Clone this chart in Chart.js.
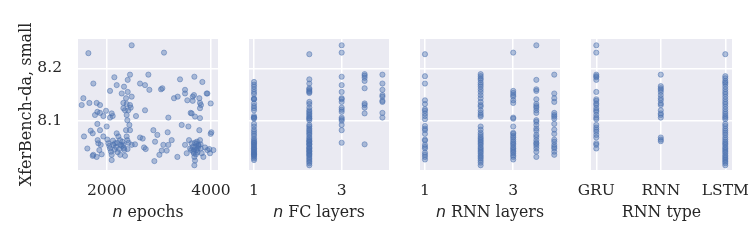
<!DOCTYPE html>
<html>
<head>
<meta charset="utf-8">
<script src="https://cdn.jsdelivr.net/npm/chart.js@4/dist/chart.umd.min.js"></script>
<style>
  body { margin: 0; background: #fff; width: 749px; height: 240px; position: relative; overflow: hidden; }
  canvas { position: absolute; top: 0; }
</style>
</head>
<body>
<canvas id="p1" width="250" height="240" style="left:0px"></canvas>
<canvas id="p2" width="200" height="240" style="left:230px"></canvas>
<canvas id="p3" width="200" height="240" style="left:400px"></canvas>
<canvas id="p4" width="210" height="240" style="left:560px"></canvas>
<script>
// y axis (shared)
const yLabel = 'XferBench-da, small'
const yTicks = [8.1, 8.2]

// panel 1: n epochs vs score
const epochTicks = [2000, 4000]
const epochs = [1649, 2479, 3099,
  1744, 2147, 2192, 2447, 2403, 2799, 2639, 2735, 2818, 3042, 3067, 3406, 3502, 3681, 3834, 3917, 2064, 2332, 2288, 2403,
  2371, 2479, 2320, 2383, 2447, 2415, 2351, 2320, 2460, 1553, 1521, 1668, 1808, 1872, 1821, 1872, 1776, 1936, 1987, 2096,
  2115, 2064, 2383, 2396, 2562, 2735, 3182, 3291, 3361, 3502, 3546, 3649, 3649, 3674, 3776, 3789, 3808, 3789, 3930, 3994,
  3610, 3629, 3693, 3789,
  1565, 1629, 1693, 1732, 1821, 1872, 1827, 1840, 1744, 1732, 1808, 1859, 1885, 1904, 1936, 2000, 2013, 2032, 2064, 2083,
  2096, 2096, 2128, 2160, 2192, 2224, 2256, 2268, 2320, 2339, 2351, 2371, 2383, 2396, 2435, 2447, 2479, 2543, 2639, 2690,
  2716, 2748, 2895, 2914, 2927, 2971, 3010, 3054, 3086, 3150, 3169, 3182, 3246, 3355, 3438, 3566, 3502, 3534, 3578, 3598,
  3629, 3661, 3681, 3693, 3681, 3725, 3744, 3757, 3776, 3789, 3802, 3821, 3853, 3885, 3930, 3968, 3981, 3994, 4006, 4045,
  2180, 2200, 2240, 2290, 2300, 2150, 2210, 2330, 2260, 2120, 2050, 2400, 2420,
  3700, 3720, 3680, 3740, 3760, 3650, 3710, 3730, 3690, 3620, 3800, 3670]
const epochScores = [8.229, 8.244, 8.230,
  8.171, 8.183, 8.168, 8.188, 8.178, 8.188, 8.171, 8.168, 8.159, 8.160, 8.162, 8.179, 8.159, 8.184, 8.174, 8.152, 8.157, 8.165, 8.152, 8.155,
  8.143, 8.146, 8.134, 8.132, 8.130, 8.120, 8.120, 8.124, 8.125, 8.143, 8.130, 8.134, 8.134, 8.130, 8.117, 8.115, 8.111, 8.109, 8.119, 8.114,
  8.109, 8.106, 8.111, 8.101, 8.109, 8.120, 8.106, 8.143, 8.146, 8.152, 8.139, 8.138, 8.146, 8.149, 8.143, 8.134, 8.130, 8.124, 8.152, 8.133,
  8.115, 8.114, 8.108, 8.105,
  8.070, 8.047, 8.081, 8.076, 8.094, 8.082, 8.063, 8.057, 8.035, 8.033, 8.031, 8.044, 8.054, 8.036, 8.070, 8.089, 8.064, 8.057, 8.047, 8.041,
  8.035, 8.025, 8.054, 8.057, 8.076, 8.070, 8.063, 8.054, 8.054, 8.044, 8.033, 8.082, 8.070, 8.063, 8.092, 8.082, 8.054, 8.055, 8.068, 8.066,
  8.049, 8.046, 8.082, 8.023, 8.060, 8.073, 8.035, 8.043, 8.054, 8.043, 8.078, 8.054, 8.063, 8.031, 8.092, 8.089, 8.054, 8.038, 8.063, 8.047,
  8.057, 8.041, 8.031, 8.024, 8.015, 8.044, 8.047, 8.054, 8.082, 8.063, 8.047, 8.038, 8.031, 8.049, 8.044, 8.046, 8.038, 8.075, 8.078, 8.044,
  8.050, 8.058, 8.046, 8.052, 8.060, 8.045, 8.040, 8.048, 8.035, 8.062, 8.052, 8.046, 8.058,
  8.050, 8.056, 8.045, 8.040, 8.052, 8.050, 8.036, 8.060, 8.058, 8.044, 8.055, 8.038]

// panel 2: n FC layers (log x)
const layerTicks = [1, 3]
const fcLayers = [1, 2, 3, 4, 5]
const fcScores = [
  [8.174, 8.169, 8.165, 8.160, 8.155, 8.151, 8.143, 8.141, 8.141, 8.133, 8.128, 8.124, 8.120, 8.109, 8.106, 8.106, 8.104,
   8.094, 8.089, 8.083, 8.079, 8.075, 8.071, 8.066, 8.063, 8.060, 8.058, 8.057, 8.054, 8.052, 8.050, 8.047, 8.046, 8.044,
   8.041, 8.040, 8.038, 8.036, 8.035, 8.033, 8.031, 8.028, 8.025],
  [8.227, 8.179, 8.171, 8.162, 8.160, 8.157, 8.155, 8.153, 8.136, 8.132, 8.125, 8.120, 8.117, 8.114, 8.111, 8.108, 8.105,
   8.104, 8.101, 8.092, 8.089, 8.085, 8.082, 8.079, 8.076, 8.073, 8.069, 8.066, 8.063, 8.061, 8.060, 8.057, 8.055, 8.054,
   8.050, 8.048, 8.047, 8.044, 8.042, 8.041, 8.038, 8.036, 8.034, 8.031, 8.028, 8.025, 8.022, 8.019, 8.015],
  [8.244, 8.230, 8.184, 8.168, 8.155, 8.143, 8.141, 8.136, 8.125, 8.121, 8.117, 8.106, 8.103, 8.100, 8.092, 8.082, 8.058],
  [8.189, 8.186, 8.182, 8.176, 8.162, 8.133, 8.130, 8.125, 8.114, 8.055],
  [8.188, 8.171, 8.159, 8.149, 8.146, 8.138, 8.136, 8.115, 8.106]
]

// panel 3: n RNN layers (log x)
const rnnLayers = [1, 2, 3, 4, 5]
const rnnLayerScores = [
  [8.227, 8.185, 8.171, 8.139, 8.132, 8.122, 8.119, 8.114, 8.109, 8.103, 8.090, 8.085, 8.082, 8.075, 8.064, 8.062, 8.054,
   8.050, 8.047, 8.039, 8.035, 8.031, 8.026],
  [8.189, 8.185, 8.181, 8.178, 8.173, 8.169, 8.165, 8.160, 8.155, 8.149, 8.143, 8.136, 8.130, 8.127, 8.120, 8.115, 8.111,
   8.108, 8.089, 8.083, 8.077, 8.073, 8.069, 8.066, 8.063, 8.060, 8.057, 8.054, 8.050, 8.047, 8.044, 8.041, 8.038, 8.034,
   8.031, 8.028, 8.024, 8.020, 8.015],
  [8.230, 8.157, 8.153, 8.149, 8.146, 8.139, 8.134, 8.106, 8.104, 8.089, 8.077, 8.075, 8.071, 8.068, 8.064, 8.060, 8.057,
   8.054, 8.050, 8.047, 8.044, 8.041, 8.038, 8.034, 8.031, 8.026],
  [8.244, 8.178, 8.160, 8.157, 8.141, 8.132, 8.128, 8.125, 8.120, 8.115, 8.101, 8.098, 8.092, 8.085, 8.081, 8.073, 8.069,
   8.063, 8.058, 8.056, 8.052, 8.047, 8.041, 8.031],
  [8.188, 8.152, 8.143, 8.136, 8.115, 8.111, 8.108, 8.104, 8.094, 8.083, 8.075, 8.064, 8.060, 8.054, 8.050, 8.047, 8.041, 8.035]
]

// panel 4: RNN type (categorical)
const rnnTypes = ['GRU', 'RNN', 'LSTM']
const rnnTypeScores = [
  [8.244, 8.230, 8.188, 8.185, 8.183, 8.178, 8.155, 8.141, 8.138, 8.133, 8.130, 8.124, 8.120, 8.117, 8.111, 8.106, 8.103,
   8.092, 8.087, 8.083, 8.079, 8.073, 8.068, 8.057, 8.054, 8.047],
  [8.188, 8.166, 8.162, 8.159, 8.155, 8.149, 8.143, 8.139, 8.133, 8.130, 8.120, 8.114, 8.111, 8.106, 8.068, 8.064, 8.061],
  [8.227, 8.185, 8.181, 8.176, 8.173, 8.170, 8.165, 8.160, 8.155, 8.151, 8.146, 8.141, 8.136, 8.132, 8.127, 8.122, 8.117,
   8.113, 8.109, 8.106, 8.103, 8.094, 8.090, 8.085, 8.081, 8.077, 8.073, 8.068, 8.064, 8.060, 8.057, 8.054, 8.050, 8.047,
   8.044, 8.041, 8.038, 8.034, 8.031, 8.028, 8.025, 8.022, 8.019, 8.015]
]

const xTitles = ['n epochs', 'n FC layers', 'n RNN layers', 'RNN type']

const textColor = '#262626'
const tickFont = { family: 'DejaVu Serif', size: 15.5 }

// grey panel background behind grid
const panelBg = {
  id: 'panelBg',
  beforeDraw(chart) {
    const { ctx, chartArea: a } = chart
    ctx.save()
    ctx.fillStyle = '#EAEAF2'
    ctx.fillRect(a.left, a.top, a.right - a.left, a.bottom - a.top)
    ctx.restore()
  }
}

// x title with italic math "n"
const xTitle = {
  id: 'xTitle',
  afterDraw(chart, args, opts) {
    const { ctx, chartArea: a } = chart
    const t = opts.text
    const serif = '15.8px "DejaVu Serif"'
    const parts = t.startsWith('n ')
      ? [['n', 'italic 15.8px "DejaVu Sans"'], [t.slice(1), serif]]
      : [[t, serif]]
    ctx.save()
    let total = 0
    for (let p of parts) { ctx.font = p[1]; total += ctx.measureText(p[0]).width }
    let x = (a.left + a.right) / 2 - total / 2
    ctx.fillStyle = textColor
    ctx.textBaseline = 'alphabetic'
    ctx.textAlign = 'left'
    for (let p of parts) {
      ctx.font = p[1]
      ctx.fillText(p[0], x, 216.5)
      x += ctx.measureText(p[0]).width
    }
    ctx.restore()
  }
}

function pts(xs, ys) {
  return xs.map((x, i) => ({ x: x, y: ys[i] }))
}
function cols(xs, groups) {
  let out = []
  groups.forEach((g, i) => g.forEach(y => out.push({ x: xs[i], y: y })))
  return out
}

function drawPanel(p) {
  const grid = { color: '#ffffff', lineWidth: 1.5, drawTicks: false }
  new Chart(document.getElementById(p.id), {
    type: 'scatter',
    data: {
      datasets: [{
        data: p.data,
        backgroundColor: 'rgba(76,114,176,0.42)',
        borderColor: 'rgba(76,114,176,0.5)',
        borderWidth: 1,
        pointRadius: 2.6
      }]
    },
    options: {
      responsive: false,
      animation: false,
      layout: { padding: { top: 39, bottom: 0, left: p.padL, right: p.padR } },
      plugins: {
        legend: { display: false },
        tooltip: { enabled: false },
        xTitle: { text: p.title }
      },
      scales: {
        x: {
          type: p.xType,
          min: p.xMin,
          max: p.xMax,
          bounds: 'data',
          afterBuildTicks: s => { s.ticks = p.xTicks.map(v => ({ value: v })) },
          afterFit: s => { s.height = 70 },
          grid: grid,
          border: { display: false },
          ticks: { font: tickFont, color: textColor, padding: 12, maxRotation: 0, autoSkip: false, callback: p.xLabel }
        },
        y: {
          min: 8.006,
          max: 8.256,
          bounds: 'data',
          afterBuildTicks: s => { s.ticks = yTicks.map(v => ({ value: v })) },
          afterFit: s => { s.width = p.yWidth },
          grid: grid,
          border: { display: false },
          ticks: { display: p.yWidth > 0, font: tickFont, color: textColor, padding: 16, callback: v => v.toFixed(1) },
          title: {
            display: p.yWidth > 0,
            text: yLabel,
            color: textColor,
            font: { family: 'DejaVu Serif', size: 16 },
            padding: { top: 17.5, bottom: 0 }
          }
        }
      }
    },
    plugins: [panelBg, xTitle]
  })
}

drawPanel({ id: 'p1', data: pts(epochs, epochScores), xType: 'linear', xMin: 1450, xMax: 4134,
  xTicks: epochTicks, xLabel: v => String(v), yWidth: 78, padL: 0, padR: 32, title: xTitles[0] })
drawPanel({ id: 'p2', data: cols(fcLayers, fcScores), xType: 'logarithmic', xMin: 0.939, xMax: 5.43,
  xTicks: layerTicks, xLabel: v => String(v), yWidth: 0, padL: 19, padR: 41, title: xTitles[1] })
drawPanel({ id: 'p3', data: cols(rnnLayers, rnnLayerScores), xType: 'logarithmic', xMin: 0.94, xMax: 5.37,
  xTicks: layerTicks, xLabel: v => String(v), yWidth: 0, padL: 20, padR: 40, title: xTitles[2] })
drawPanel({ id: 'p4', data: cols([0, 1, 2], rnnTypeScores), xType: 'linear', xMin: -0.082, xMax: 2.104,
  xTicks: [0, 1, 2], xLabel: v => rnnTypes[v], yWidth: 0, padL: 31, padR: 38, title: xTitles[3] })
</script>
</body>
</html>
